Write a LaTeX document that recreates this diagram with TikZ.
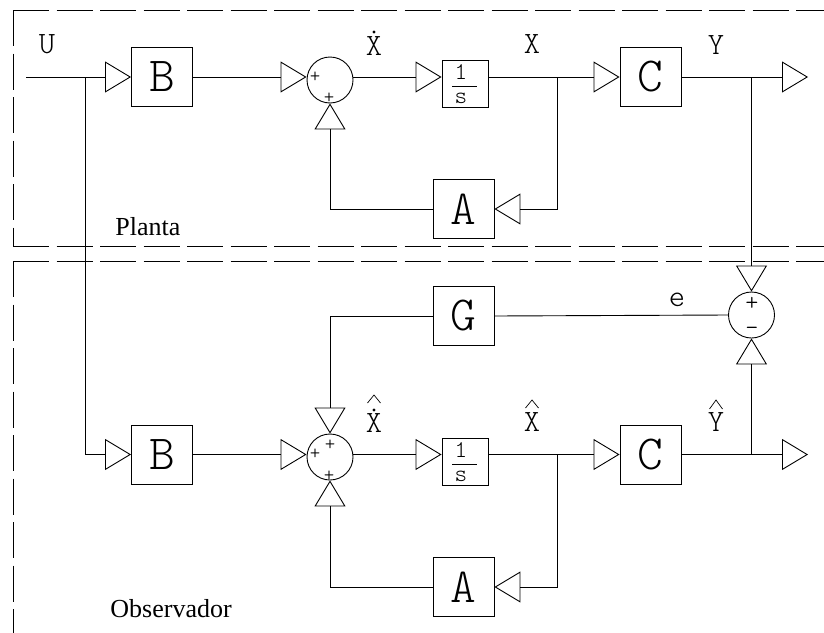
\documentclass[tikz,border=0pt]{standalone}
\usepackage{fontspec}
\setmainfont{Liberation Serif}
\newfontfamily\cad{lmmonolt10-regular.otf}
\usetikzlibrary{arrows.meta}
\begin{document}
\begin{tikzpicture}[x=1pt,y=-1pt,line width=0.9pt,
  blk/.style={draw,minimum width=61pt,minimum height=59pt,inner sep=0pt,font=\cad\fontsize{49}{50}\selectfont},
  intb/.style={draw,minimum width=46pt,minimum height=47pt,inner sep=0pt},
  sumc/.style={draw,circle,minimum size=46pt,inner sep=0pt},
  arr/.style={-{Triangle[open,length=26pt,width=31pt]}},
  lbl/.style={inner sep=0pt,font=\cad\fontsize{31}{32}\selectfont},
  pm/.style={inner sep=0pt,font=\cad\fontsize{20}{20}\selectfont},
  pmbig/.style={inner sep=0pt,font=\cad\fontsize{25}{25}\selectfont},
  frac/.style={inner sep=0pt,font=\cad\fontsize{24}{24}\selectfont},
  hatline/.style={line width=0.7pt},
  region/.style={line width=0.8pt,dash pattern=on 36pt off 7.5pt},
  title/.style={inner sep=0pt,font=\fontsize{26}{28}\selectfont,anchor=base west}]
\useasboundingbox (0,0) rectangle (824,632);
\clip (0,0) rectangle (824,632);
% regions
\draw[region] (13,10) -- (840,10);
\draw[region] (13,10) -- (13,246);
\draw[region] (13,246) -- (840,246);
\draw[region] (13,261) -- (840,261);
\draw[region] (13,261) -- (13,650);
\node[title] (planta) at (115,235) {Planta};
\node[title] (obs) at (110,617) {Observador};
% ---------------- Planta
\node[blk] (B1) at (162,77) {B};
\node[sumc] (S1) at (330,80) {};
\node[intb] (I1) at (465,83.5) {};
\node[blk] (C1) at (650.5,77) {C};
\node[blk] (A1) at (463.5,209) {A};
\node[frac] (one1) at (461,72) {1};
\node[frac] (s1) at (461,98) {s};
\draw[line width=0.8pt] (452,86) -- (477,86);
\node[pm] (p1a) at (315,77) {+};
\node[pm] (p1b) at (329,98) {+};
\coordinate (in1) at (26,77);
\coordinate (ju) at (85,77);
\coordinate (jx1) at (557,77);
\coordinate (jy1) at (751.5,77);
\coordinate (out1) at (808,77);
\draw[arr] (in1) -- (B1.west);
\draw[arr] (B1.east) -- (S1.west |- B1.east);
\draw[arr] (S1.east |- B1.east) -- (I1.west |- B1.east);
\draw[arr] (I1.east |- B1.east) -- (C1.west);
\draw[arr] (C1.east) -- (out1);
\draw[arr] (jx1) |- (A1.east);
\draw[arr] (A1.west) -| (S1.south);
\node[lbl] (lU) at (47,44) {U};
\node[lbl] (lXd) at (374,46) {X};
\fill (374,32) circle (1.7pt);
\node[lbl] (lX) at (532,44) {X};
\node[lbl] (lY) at (716,45) {Y};
% ---------------- Observador
\node[blk] (B2) at (162,454.5) {B};
\node[sumc] (S2) at (330,457) {};
\node[intb] (I2) at (465,461.5) {};
\node[blk] (C2) at (650.5,454.5) {C};
\node[blk] (A2) at (463.5,587) {A};
\node[blk] (G) at (463.5,316) {G};
\node[sumc] (S3) at (751.5,315) {};
\node[frac] (one2) at (461,450) {1};
\node[frac] (s2) at (461,476) {s};
\draw[line width=0.8pt] (452,464) -- (477,464);
\node[pm] (p2a) at (315,454) {+};
\node[pm] (p2b) at (330,445) {+};
\node[pm] (p2c) at (329,476) {+};
\node[pmbig] (p3a) at (752,304) {+};
\node[pmbig] (p3b) at (752,331) {–};
\coordinate (jx2) at (557,454.5);
\coordinate (jy2) at (751.5,454.5);
\coordinate (out2) at (808,454.5);
\draw[arr] (ju) |- (B2.west);
\draw[arr] (B2.east) -- (S2.west |- B2.east);
\draw[arr] (S2.east |- B2.east) -- (I2.west |- B2.east);
\draw[arr] (I2.east |- B2.east) -- (C2.west);
\draw[arr] (C2.east) -- (out2);
\draw[arr] (jx2) |- (A2.east);
\draw[arr] (A2.west) -| (S2.south);
\draw[arr] (jy1) -- (S3.north);
\draw[arr] (jy2) -- (S3.south);
\draw (S3.west) -- (G.east);
\draw[arr] (G.west) -| (S2.north);
\node[lbl] (le) at (677,300) {e};
% hatted labels
\node[lbl] (lXd2) at (374,423) {X};
\draw[hatline] ([shift={(-6.5,-20)}]lXd2.center) -- ([shift={(0,-28)}]lXd2.center) -- ([shift={(6.5,-20)}]lXd2.center);
\fill ([yshift=13pt]lXd2.center) circle (1.7pt);
\node[lbl] (lX2) at (532,422) {X};
\draw[hatline] ([shift={(-6.5,-14)}]lX2.center) -- ([shift={(0,-22)}]lX2.center) -- ([shift={(6.5,-14)}]lX2.center);
\node[lbl] (lY2) at (716,422) {Y};
\draw[hatline] ([shift={(-6.5,-13)}]lY2.center) -- ([shift={(0,-22)}]lY2.center) -- ([shift={(6.5,-13)}]lY2.center);
\end{tikzpicture}
\end{document}
